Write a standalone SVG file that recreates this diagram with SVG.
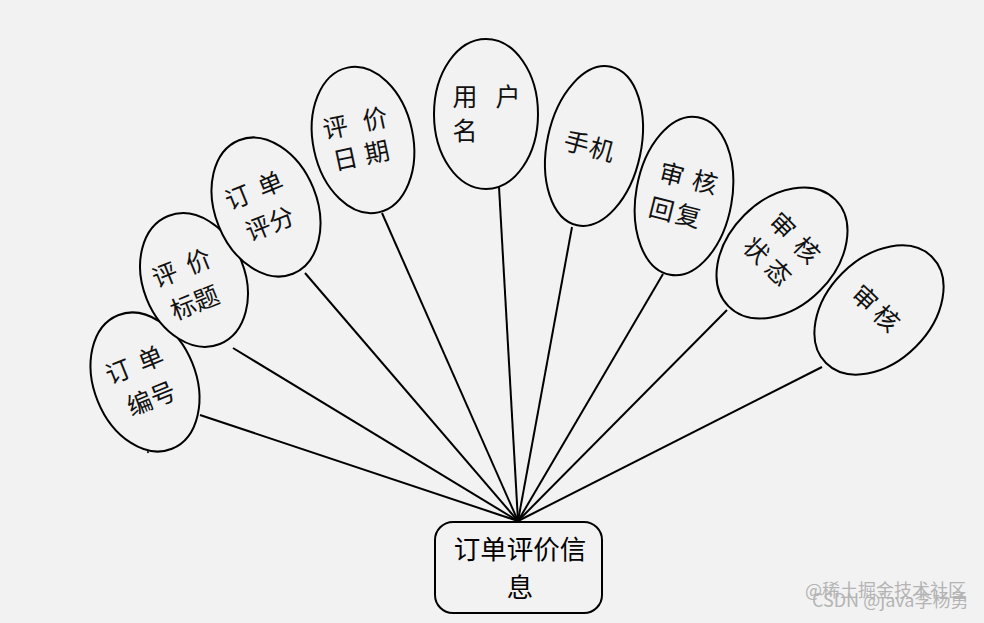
<svg xmlns="http://www.w3.org/2000/svg" width="984" height="623" viewBox="0 0 984 623">
<style>
.bg{fill:#f2f2f2}
.ell{fill:#f2f2f2;stroke:#000;stroke-width:2}
.lbl{font-family:"Noto Sans CJK SC","Noto Sans",sans-serif;font-size:25px;fill:#111}
.main{font-family:"Noto Sans CJK SC","Noto Sans",sans-serif;font-size:26.5px;fill:#000;text-anchor:middle}
.conn line{stroke:#000;stroke-width:2}
.wm{font-family:"Noto Sans CJK SC","Liberation Sans",sans-serif;font-size:18px;fill:#b4b4b4}
</style>
<rect class="bg" x="0" y="0" width="984" height="623"/>
<g id="connectors" class="conn">
<line x1="200" y1="415" x2="518" y2="521"/>
<line x1="233" y1="348" x2="518" y2="521"/>
<line x1="305" y1="273" x2="518" y2="521"/>
<line x1="382" y1="213" x2="518" y2="521"/>
<line x1="499" y1="187" x2="518" y2="521"/>
<line x1="572" y1="227" x2="518" y2="521"/>
<line x1="663" y1="274" x2="518" y2="521"/>
<line x1="727" y1="310" x2="518" y2="521"/>
<line x1="822" y1="367" x2="518" y2="521"/>
</g>
<g id="n1" transform="translate(145,382)">
<ellipse class="ell" rx="51" ry="72" transform="rotate(-22)"/>
<g transform="rotate(-22)">
<text class="lbl" xml:space="preserve" x="-33.5 -10 1.5" y="-10.5">订 单</text>
<text class="lbl" x="-25.5" y="27">编号</text>
</g>
</g>
<circle cx="148" cy="452" r="1.2" fill="#333"/>
<g id="n2" transform="translate(194,280)">
<ellipse class="ell" rx="51" ry="69" transform="rotate(-22)"/>
<g transform="rotate(-22)">
<text class="lbl" xml:space="preserve" x="-37.5 -14 -1.3" y="-6.5">评 价</text>
<text class="lbl" x="-32.8" y="30.5">标题</text>
</g>
</g>
<g id="n3" transform="translate(266,207)">
<ellipse class="ell" rx="51" ry="72" transform="rotate(-22)"/>
<g transform="rotate(-22)">
<text class="lbl" xml:space="preserve" x="-35 -12 0.2" y="-10.5">订 单</text>
<text class="lbl" x="-27.8" y="26">评分</text>
</g>
</g>
<g id="n4" transform="translate(363,140)">
<ellipse class="ell" rx="50" ry="74" transform="rotate(-12)"/>
<g transform="rotate(-12)">
<text class="lbl" xml:space="preserve" x="-37 -12 3.8" y="-9">评 价</text>
<text class="lbl" x="-33.8 -1.5" y="24">日期</text>
</g>
</g>
<g id="n5" transform="translate(486,114)">
<ellipse class="ell" rx="52" ry="75"/>
<text class="lbl" xml:space="preserve" x="-33.5 -8 9.5" y="-8.5">用 户</text>
<text class="lbl" x="-33.5" y="25.5">名</text>
</g>
<g id="n6" transform="translate(594,146)">
<ellipse class="ell" rx="47" ry="81" transform="rotate(12)"/>
<text class="lbl" x="-30 -3.8" y="10.5" transform="rotate(15)">手机</text>
</g>
<g id="n7" transform="translate(684,196)">
<ellipse class="ell" rx="48" ry="80" transform="rotate(10)"/>
<g transform="rotate(14)">
<text class="lbl" xml:space="preserve" x="-29.5 -6 4.5" y="-9">审 核</text>
<text class="lbl" x="-31 -3.5" y="27.5">回复</text>
</g>
</g>
<g id="n8" transform="translate(782,253)">
<ellipse class="ell" rx="53.5" ry="75.5" transform="rotate(45)"/>
<g transform="rotate(45)">
<text class="lbl" xml:space="preserve" x="-31.5 -8 3" y="-10.5">审 核</text>
<text class="lbl" x="-32.5 -1.5" y="25.5">状态</text>
</g>
</g>
<g id="n9" transform="translate(879,310)">
<ellipse class="ell" rx="52" ry="75" transform="rotate(45)"/>
<text class="lbl" x="-31 -1.2" y="10" transform="rotate(43)">审核</text>
</g>
<g id="root">
<rect x="435" y="522" width="167" height="91" rx="18" ry="18" fill="#f2f2f2" stroke="#000" stroke-width="2"/>
<text class="main"><tspan x="520" y="559">订单评价信</tspan><tspan x="520" y="597">息</tspan></text>
</g>
<text class="wm"><tspan x="805" y="597">@稀土掘金技术社区</tspan><tspan x="812" y="607">CSDN @java李杨勇</tspan></text>
</svg>
